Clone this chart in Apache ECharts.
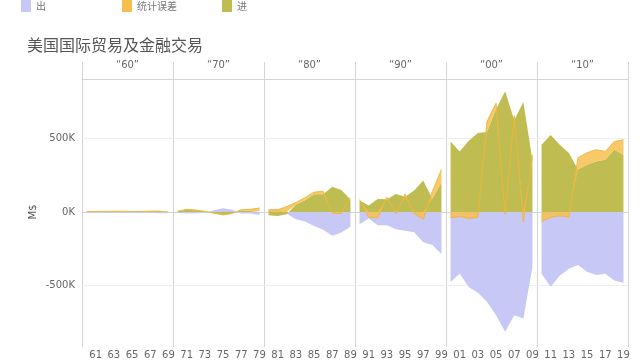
<!DOCTYPE html>
<html><head><meta charset="utf-8">
<script src="https://cdn.jsdelivr.net/npm/echarts@6/dist/echarts.min.js"></script>
<style>html,body{margin:0;padding:0;background:#fff}#c{width:640px;height:360px}</style>
</head><body><div id="c"></div>
<script>
// Facet headers (decades)
const decades = ['“60”', '“70”', '“80”', '“90”', '“00”', '“10”'];
// Year labels, 1960–2019
const yearLabels = [
  '60','61','62','63','64','65','66','67','68','69',
  '70','71','72','73','74','75','76','77','78','79',
  '80','81','82','83','84','85','86','87','88','89',
  '90','91','92','93','94','95','96','97','98','99',
  '00','01','02','03','04','05','06','07','08','09',
  '10','11','12','13','14','15','16','17','18','19'
];
// Values in thousand M$ (K)
const inflow = [ // 进
  2, 3, 3, 4, 3, 1, 3, 5, 6, 7,
  5, 15, 12, 4, -8, -20, -10, 12, 6, 5,
  -22, -27, -15, 50, 80, 120, 120, 172, 149, 85,
  79, 45, 89, 86, 123, 103, 147, 214, 90, 200,
  480, 412, 484, 538, 545, 700, 822, 625, 748, 350,
  457, 524, 457, 401, 289, 322, 343, 356, 424, 390
];
const discrepancy = [ // 统计误差
  0, 1, 1, 1, 2, 2, 1, 1, 0, -1,
  0, 3, 2, 0, 0, 0, 0, 3, 12, 22,
  15, 15, 37, 14, 17, 15, 22, -8, -10, 12,
  5, -35, -40, 15, -10, 20, -10, -50, 50, 90,
  -40, -30, -45, -35, 70, 40, -15, 30, -70, 40,
  -65, -36, -27, -36, 80, 81, 81, 56, 56, 101
];
const outflow = [ // 出
  -4, -5, -4, -6, -7, -5, -6, -7, -8, -8,
  -5, -10, -8, -5, 12, 25, 15, -10, -10, -20,
  15, 17, -12, -50, -65, -95, -120, -162, -139, -100,
  -83, -45, -90, -90, -117, -128, -137, -205, -225, -286,
  -476, -420, -510, -550, -610, -703, -814, -703, -725, -375,
  -421, -509, -434, -387, -360, -407, -428, -421, -466, -482
];
const yTicks = [-500, 0, 500];
const legendNames = ['出', '统计误差', '进'];

const COLORS = { '出': '#c8c8f7', '统计误差': '#f7bf4d', '进': '#bfbd52' };
const FONT = 'DejaVu Sans, Verdana, sans-serif';
const P0 = 82, PW = 91, TOP = 79, BOTTOM_Y = 347, HEAD_TOP = 62;

const grids = [], xAxes = [], yAxes = [], series = [], graphics = [];
for (let i = 0; i < 6; i++) {
  grids.push({ left: P0 + PW * i, width: PW, top: TOP, height: BOTTOM_Y - TOP });
}
for (let i = 0; i < 6; i++) {
  xAxes.push({
    type: 'category', gridIndex: i, boundaryGap: true,
    data: yearLabels.slice(i * 10, i * 10 + 10),
    axisLine: { show: true, lineStyle: { color: '#d4d4d4' } },
    axisTick: { show: false },
    axisLabel: { interval: (idx) => idx % 2 === 1, color: '#666', fontSize: 10, margin: 5, fontFamily: FONT }
  });
}
for (let i = 0; i < 6; i++) {
  xAxes.push({
    type: 'category', gridIndex: i, position: 'top', data: [''],
    axisLine: { show: true, lineStyle: { color: '#d4d4d4' } },
    axisTick: { show: false }, axisLabel: { show: false },
    name: decades[i], nameLocation: 'middle', nameGap: 9,
    nameTextStyle: { color: '#666', fontSize: 10, fontFamily: FONT }
  });
}
for (let i = 0; i < 6; i++) {
  yAxes.push({
    type: 'value', gridIndex: i, min: -905, max: 905,
    axisLine: { show: false },
    axisTick: { show: false, customValues: yTicks },
    axisLabel: { show: i === 0, customValues: yTicks, formatter: (v) => v + 'K', color: '#666', fontSize: 10, fontFamily: FONT, margin: 7 },
    splitLine: { show: true, lineStyle: { color: '#eeeeee' } },
    name: i === 0 ? 'M$' : '', nameLocation: 'middle', nameRotate: 90, nameGap: 44,
    nameTextStyle: { color: '#555', fontSize: 10, fontFamily: FONT }
  });
}
// draw order: 出 (from zero), then 进 and 统计误差 stacked
const defs = [
  { name: '出', arr: outflow, op: 1, stack: null, lw: 0 },
  { name: '进', arr: inflow, op: 1, stack: 'a', lw: 0 },
  { name: '统计误差', arr: discrepancy, op: 0.85, stack: 'a', lw: 1 }
];
for (let i = 0; i < 6; i++) {
  defs.forEach(d => {
    const s = {
      name: d.name, type: 'line', xAxisIndex: i, yAxisIndex: i,
      data: d.arr.slice(i * 10, i * 10 + 10),
      symbol: 'none', smooth: false, color: COLORS[d.name],
      lineStyle: { width: d.lw, color: '#f0b43c', opacity: 0.9 },
      areaStyle: { color: COLORS[d.name], opacity: d.op },
      emphasis: { disabled: true }, silent: true
    };
    if (d.stack) s.stack = d.stack + i;
    series.push(s);
  });
}
for (let i = 0; i <= 6; i++) {
  const x = P0 + PW * i + 0.5;
  graphics.push({ type: 'line', shape: { x1: x, y1: HEAD_TOP, x2: x, y2: BOTTOM_Y }, style: { stroke: '#d4d4d4', lineWidth: 1 }, silent: true });
}
const legendLefts = [21, 122, 222];
const legends = legendNames.map((n, k) => ({
  data: [n], left: legendLefts[k], top: 0, padding: 0, icon: 'rect', itemWidth: 10, itemHeight: 12, itemGap: 5,
  textStyle: { color: '#777', fontSize: 10, fontFamily: 'Noto Sans CJK SC' }
}));

const chart = echarts.init(document.getElementById('c'), null, { renderer: 'canvas' });
chart.setOption({
  animation: false,
  backgroundColor: '#fff',
  title: { text: '美国国际贸易及金融交易', left: 22, top: 32,
    textStyle: { fontSize: 16, fontWeight: 'normal', color: '#555', fontFamily: 'Noto Sans CJK SC' } },
  legend: legends,
  grid: grids, xAxis: xAxes, yAxis: yAxes, series: series, graphic: graphics
});
</script></body></html>
